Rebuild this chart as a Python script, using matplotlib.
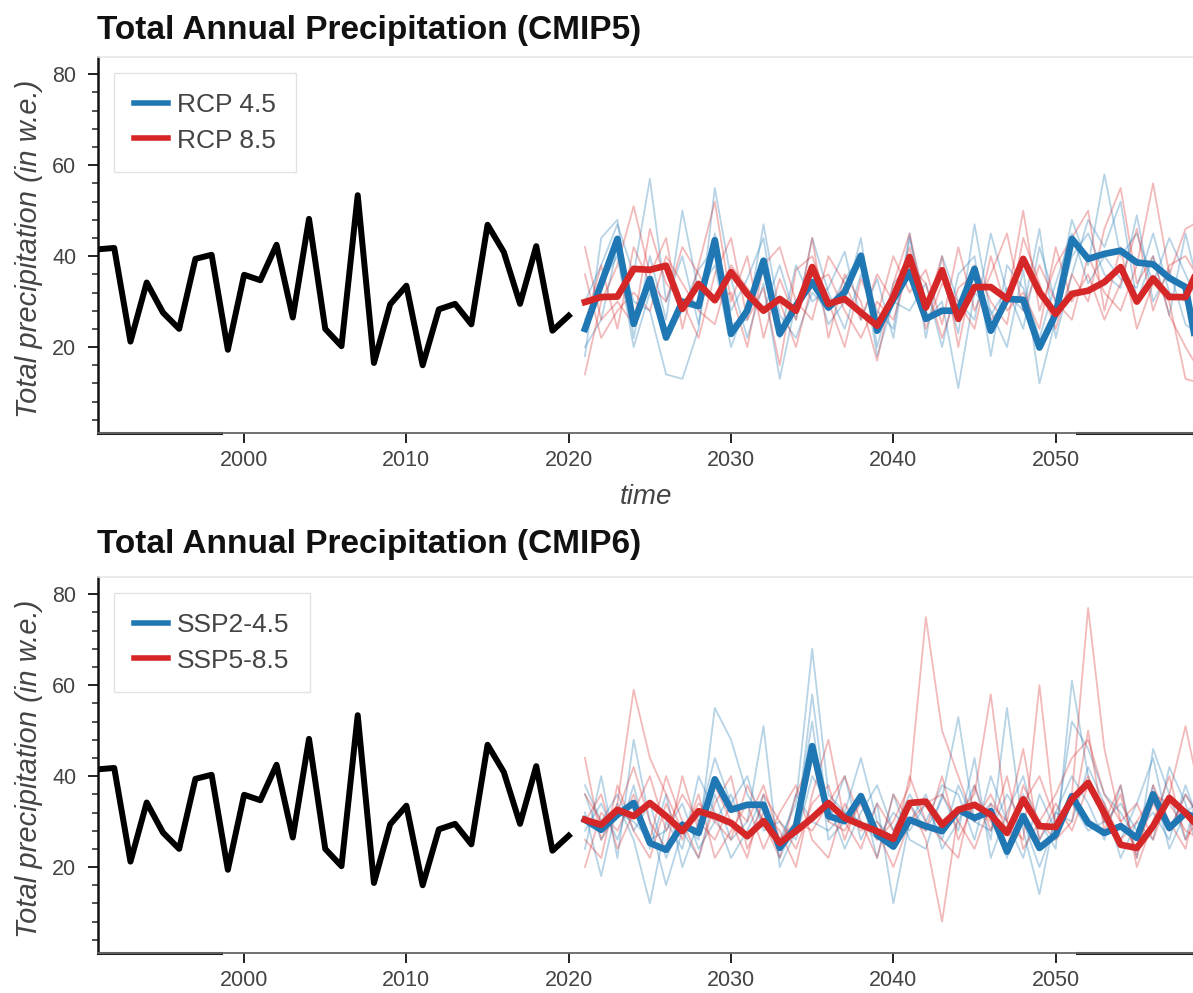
import matplotlib
matplotlib.use("Agg")
import matplotlib.pyplot as plt
from matplotlib.ticker import MultipleLocator
import numpy as np

plt.rcParams['font.family'] = ['Liberation Sans', 'DejaVu Sans']

# observed record 1991-2020
hist_years = list(range(1991, 2021))
hist_precip = [41.5, 41.8, 21.2, 34.2, 27.6, 24.0, 39.4, 40.3, 19.4, 35.9,
               34.7, 42.5, 26.5, 48.2, 24.0, 20.2, 53.4, 16.5, 29.4, 33.5,
               16.0, 28.3, 29.5, 25.0, 46.9, 40.9, 29.5, 42.2, 23.6, 26.9]

# projections 2021-2059
proj_years = list(range(2021, 2060))

# CMIP5 ensemble means
rcp45_mean = [24.0, 33.9, 43.8, 25.1, 35.0, 22.1, 30.0, 29.0, 43.5, 22.9,
              28.0, 39.0, 22.9, 29.1, 34.3, 28.7, 32.1, 40.1, 23.6, 30.5,
              36.5, 26.2, 28.0, 28.0, 37.2, 23.6, 30.6, 30.4, 19.9, 27.3,
              43.8, 39.4, 40.5, 41.2, 38.6, 38.2, 35.2, 33.2, 14.0]
rcp85_mean = [29.9, 31.0, 31.1, 37.2, 37.0, 37.9, 28.4, 33.9, 30.3, 36.5,
              31.7, 28.0, 30.6, 28.0, 37.6, 29.5, 30.6, 27.6, 24.7, 31.0,
              39.8, 28.7, 36.9, 26.2, 33.2, 33.2, 30.6, 39.4, 32.1, 27.3,
              31.7, 32.4, 34.3, 37.6, 30.0, 35.1, 31.0, 31.0, 39.0]

# CMIP5 individual models
rcp45_models = [
    [30, 38, 47, 36, 57, 30, 40, 25, 45, 28, 35, 44, 22, 38, 30, 33, 41, 26, 35, 22,
     44, 30, 36, 23, 47, 27, 33, 24, 42, 30, 48, 38, 58, 40, 45, 34, 44, 36, 28],
    [20, 26, 42, 30, 28, 14, 13, 24, 55, 35, 22, 34, 13, 30, 36, 25, 30, 44, 20, 34,
     38, 26, 30, 11, 32, 28, 20, 37, 12, 26, 40, 45, 36, 33, 49, 30, 37, 25, 22],
    [18, 44, 48, 22, 40, 26, 50, 32, 38, 20, 30, 28, 38, 26, 44, 32, 24, 36, 28, 24,
     45, 22, 40, 30, 26, 45, 32, 28, 46, 22, 36, 48, 42, 52, 30, 40, 27, 45, 30],
    [26, 34, 40, 20, 32, 22, 28, 37, 42, 25, 26, 47, 27, 22, 32, 28, 35, 40, 18, 30,
     28, 34, 20, 36, 40, 18, 38, 33, 22, 34, 45, 34, 40, 35, 33, 45, 32, 30, 18],
]
rcp85_models = [
    [14, 30, 38, 51, 36, 44, 24, 38, 52, 30, 40, 22, 35, 26, 44, 22, 36, 30, 17, 34,
     45, 28, 40, 20, 38, 30, 25, 44, 34, 24, 36, 30, 46, 55, 34, 40, 27, 20, 14],
    [42, 26, 30, 25, 46, 34, 30, 22, 36, 44, 26, 33, 16, 37, 40, 30, 20, 35, 27, 40,
     32, 37, 25, 42, 28, 36, 45, 28, 38, 30, 26, 40, 32, 28, 38, 56, 36, 46, 48],
    [36, 22, 28, 32, 28, 40, 34, 28, 25, 38, 33, 28, 30, 20, 34, 36, 28, 22, 30, 26,
     38, 34, 22, 33, 36, 26, 30, 50, 28, 38, 44, 50, 28, 42, 24, 34, 30, 13, 12],
    [25, 38, 24, 42, 34, 30, 42, 36, 30, 32, 20, 38, 42, 30, 26, 40, 34, 26, 36, 30,
     42, 24, 34, 30, 24, 40, 28, 32, 24, 42, 30, 36, 26, 34, 46, 28, 38, 40, 34],
]

# CMIP6 ensemble means
ssp245_mean = [30.4, 28.2, 31.5, 34.1, 25.3, 23.8, 29.3, 27.5, 39.3, 32.6,
               33.7, 33.7, 24.2, 29.0, 46.6, 31.2, 30.1, 35.6, 27.1, 24.5,
               30.4, 29.0, 27.9, 32.6, 30.8, 32.3, 23.4, 31.2, 24.2, 27.1,
               35.6, 29.7, 27.5, 29.0, 26.4, 36.0, 28.6, 31.9, 30.0]
ssp585_mean = [30.4, 29.3, 32.6, 31.2, 34.1, 31.2, 27.9, 32.3, 31.2, 29.7,
               26.8, 30.1, 25.3, 27.9, 30.8, 34.1, 30.8, 29.3, 27.9, 26.2,
               34.1, 34.4, 29.3, 32.6, 33.7, 31.5, 27.5, 34.9, 29.0, 28.8,
               34.9, 38.5, 31.9, 24.9, 24.2, 29.0, 35.2, 31.9, 28.0]

# CMIP6 individual models
ssp245_models = [
    [38, 30, 36, 28, 34, 22, 30, 26, 55, 48, 36, 30, 26, 34, 68, 36, 32, 44, 30, 26,
     34, 28, 35, 53, 30, 34, 22, 36, 30, 24, 61, 40, 30, 26, 34, 44, 28, 36, 30],
    [24, 40, 22, 48, 30, 16, 28, 22, 36, 26, 30, 51, 20, 28, 58, 30, 40, 26, 34, 12,
     30, 36, 24, 30, 38, 26, 55, 28, 14, 32, 40, 34, 26, 38, 22, 46, 36, 26, 40],
    [32, 18, 34, 26, 12, 30, 24, 40, 32, 22, 28, 36, 22, 30, 52, 26, 30, 36, 22, 36,
     26, 24, 36, 28, 44, 22, 32, 40, 26, 32, 30, 42, 34, 22, 30, 26, 42, 34, 20],
    [28, 34, 26, 38, 24, 36, 20, 30, 44, 34, 40, 28, 30, 26, 40, 34, 24, 32, 38, 28,
     36, 30, 38, 36, 26, 40, 30, 22, 36, 28, 52, 46, 36, 32, 26, 38, 24, 32, 35],
    [36, 26, 32, 30, 26, 28, 34, 24, 30, 36, 26, 34, 24, 36, 30, 28, 32, 30, 26, 32,
     28, 34, 26, 38, 30, 28, 36, 30, 20, 30, 34, 28, 30, 34, 28, 32, 26, 38, 28],
]
ssp585_models = [
    [44, 26, 34, 59, 44, 36, 28, 34, 30, 26, 38, 30, 22, 36, 44, 30, 28, 34, 26, 30,
     38, 75, 50, 40, 30, 36, 28, 34, 40, 30, 36, 77, 46, 30, 24, 34, 28, 36, 30],
    [20, 32, 28, 36, 26, 40, 30, 22, 34, 40, 24, 32, 28, 20, 36, 48, 30, 24, 34, 28,
     34, 26, 8, 32, 36, 58, 30, 26, 60, 28, 34, 40, 30, 38, 20, 30, 40, 26, 32],
    [30, 36, 24, 32, 40, 28, 36, 30, 26, 34, 30, 38, 26, 30, 28, 34, 40, 30, 22, 36,
     30, 28, 40, 26, 34, 30, 24, 38, 30, 36, 44, 48, 36, 30, 34, 26, 36, 51, 34],
    [26, 22, 38, 28, 22, 34, 26, 36, 22, 28, 34, 24, 32, 38, 26, 22, 34, 28, 30, 24,
     40, 30, 26, 22, 38, 28, 40, 24, 30, 26, 30, 50, 28, 36, 22, 38, 30, 24, 40],
    [36, 30, 32, 42, 30, 24, 40, 28, 38, 30, 22, 36, 30, 24, 34, 38, 26, 36, 28, 20,
     30, 34, 36, 30, 24, 34, 30, 46, 26, 34, 28, 38, 34, 26, 30, 36, 34, 28, 26],
]

BLUE = '#1f77b4'
RED = '#d62728'
W, H = 1193, 993

fig = plt.figure(figsize=(W / 100, H / 100), dpi=100)


def make_panel(top_px, title, title_px, mean_a, mean_b, models_a, models_b, labels, xlabel):
    ax = fig.add_axes([98 / W, 1 - (top_px + 376) / H, 1 - 98 / W, 376 / H])

    # individual models, faint
    for m in models_a:
        ax.plot(proj_years, m, color=BLUE, lw=1.3, alpha=0.32)
    for m in models_b:
        ax.plot(proj_years, m, color=RED, lw=1.3, alpha=0.32)

    ax.plot(hist_years, hist_precip, color='black', lw=4.3)
    ax.plot(proj_years, mean_a, color=BLUE, lw=4.8, label=labels[0])
    ax.plot(proj_years, mean_b, color=RED, lw=4.8, label=labels[1])

    ax.set_xlim(1991, 2058.46)
    ax.set_ylim(1.1, 83.8)
    ax.set_xticks([2000, 2010, 2020, 2030, 2040, 2050])
    ax.set_yticks([20, 40, 60, 80])
    ax.yaxis.set_minor_locator(MultipleLocator(4))
    ax.tick_params(axis='both', which='major', labelsize=15.5, labelcolor='#444',
                   length=7.5, width=1.4, color='#222', direction='out')
    ax.tick_params(axis='x', pad=5)
    ax.tick_params(axis='y', pad=8)
    ax.tick_params(axis='y', which='minor', length=4, width=1.1, color='#222')

    ax.spines['right'].set_visible(False)
    ax.spines['top'].set_color('#e6e6e6')
    ax.spines['top'].set_linewidth(1.2)
    ax.spines['left'].set_color('#111')
    ax.spines['left'].set_linewidth(1.8)
    ax.spines['bottom'].set_color('#666')
    ax.spines['bottom'].set_linewidth(1.3)
    # darker pieces of the axis line seen in the screenshot
    ax.axhline(1.1, xmin=0, xmax=0.112, color='#222', lw=2.2, clip_on=False)
    ax.axhline(1.1, xmin=0.894, xmax=1, color='#222', lw=2.2, clip_on=False)

    ax.set_ylabel('Total precipitation (in w.e.)', fontsize=21, style='italic', color='#444')
    ax.yaxis.set_label_coords(-0.05, 0.49)
    if xlabel:
        ax.set_xlabel(xlabel, fontsize=20, style='italic', color='#444')
        ax.xaxis.set_label_coords(0.5, -0.135)

    leg = ax.legend(loc='upper left', bbox_to_anchor=(16 / 1095, 1 - 16 / 376),
                    borderaxespad=0, fontsize=19, handlelength=1.3,
                    handletextpad=0.35, borderpad=0.75, labelspacing=0.45,
                    fancybox=False, framealpha=1)
    leg.get_frame().set_edgecolor('#e2e2e2')
    leg.get_frame().set_linewidth(1.0)
    for t in leg.get_texts():
        t.set_color('#444')
    for line in leg.get_lines():
        line.set_linewidth(4.0)

    fig.text(97 / W, 1 - title_px / H, title, fontsize=24, fontweight='bold',
             color='#111', va='center', ha='left')
    return ax


make_panel(57, 'Total Annual Precipitation (CMIP5)', 31,
           rcp45_mean, rcp85_mean, rcp45_models, rcp85_models,
           ['RCP 4.5', 'RCP 8.5'], 'time')
make_panel(577, 'Total Annual Precipitation (CMIP6)', 544,
           ssp245_mean, ssp585_mean, ssp245_models, ssp585_models,
           ['SSP2-4.5', 'SSP5-8.5'], None)

fig.savefig('out.png', dpi=100)
